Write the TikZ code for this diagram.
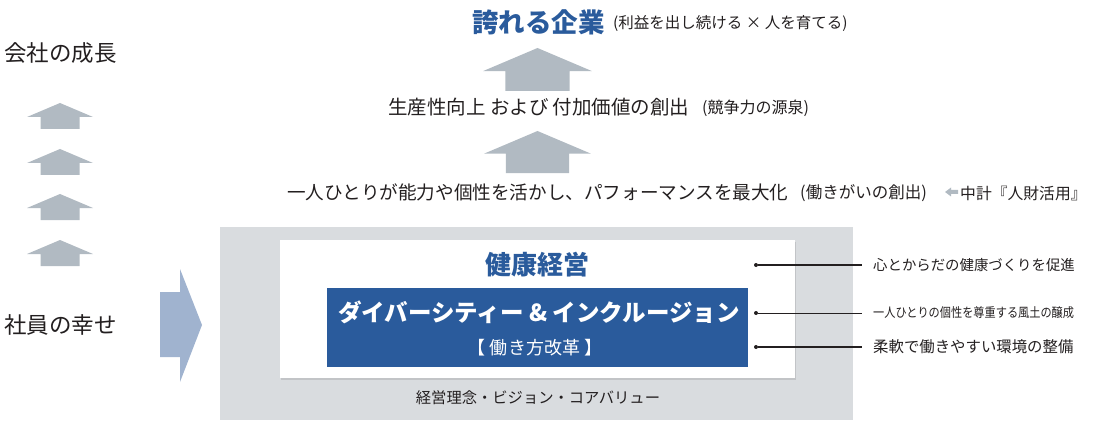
\documentclass[tikz,border=0pt]{standalone}
\usepackage{fontspec}
\setmainfont{Noto Sans CJK JP}
\usetikzlibrary{shadows}
\definecolor{kblue}{HTML}{2A5B9C}
\definecolor{karrow}{HTML}{B1BAC2}
\definecolor{kpanel}{HTML}{D9DCDF}
\definecolor{kside}{HTML}{A0B3CF}
\definecolor{ktext}{HTML}{231F20}
\tikzset{
  txt/.style={text=ktext,inner sep=0pt},
  dotmark/.style={circle,fill=ktext,inner sep=0pt,minimum size=4pt},
  uparrow/.pic={
    \fill[karrow] (-33,14) -- (0,0) -- (33,14) -- (19.5,14) -- (19.5,26)
      -- (-19.5,26) -- (-19.5,14) -- cycle;
  },
}
\newcommand\fs[1]{\fontsize{#1}{#1}\selectfont}
\begin{document}
\begin{tikzpicture}[x=1pt,y=-1pt]
  \useasboundingbox (0,0) rectangle (1093,433);
  \node[txt,anchor=west,font=\fs{26.5}\bfseries,text=kblue] (goal) at (472,22) {誇れる企業};
  \node[txt,anchor=west,font=\fs{15.5}] (goalnote) at (613,23) {(利益を出し続ける × 人を育てる)};
  \pic[scale=1.65] at (537.5,48) {uparrow};
  \node[txt,anchor=west,font=\fs{19.5}] (value) at (388,107) {生産性向上 および 付加価値の創出};
  \node[txt,anchor=west,font=\fs{16}] (valuenote) at (702,108) {(競争力の源泉)};
  \pic[scale=1.62] at (537.5,131) {uparrow};
  \node[txt,anchor=west,font=\fs{18.6}] (perf) at (287,192) {一人ひとりが能力や個性を活かし、パフォーマンスを最大化};
  \node[txt,anchor=west,font=\fs{16.5}] (perfnote) at (800,193) {(働きがいの創出)};
  \fill[karrow] (945,192) -- (951,187.5) -- (951,190) -- (958,190) -- (958,194) -- (951,194) -- (951,196.5) -- cycle;
  \node[txt,anchor=west,font=\fs{15.8}] (plan) at (960,193) {中計『人財活用』};
  \node[txt,anchor=west,font=\fs{22.5}] (growth) at (4,53) {会社の成長};
  \pic at (60,103) {uparrow};
  \pic at (60,149) {uparrow};
  \pic at (60,194) {uparrow};
  \pic at (60,240) {uparrow};
  \node[txt,anchor=west,font=\fs{22.5}] (happy) at (4,325) {社員の幸せ};
  \fill[kside] (160,292) -- (180,292) -- (180,269) -- (202,325) -- (180,382)
    -- (180,357) -- (160,357) -- cycle;
  \fill[kpanel] (220,227) rectangle (853,420);
  \fill[white,drop shadow={opacity=0.25,shadow xshift=1pt,shadow yshift=-1.5pt}] (280,240) rectangle (795,378);
  \fill[kblue] (327,288) rectangle (748,367);
  \node[font=\fs{26}\bfseries,text=kblue,inner sep=0pt] (health) at (537,265) {健康経営};
  \node[font=\fs{23.5}\bfseries,text=white,inner sep=0pt] (diversity) at (539,312) {ダイバーシティー \& インクルージョン};
  \node[font=\fs{18},text=white,inner sep=0pt] (reform) at (535,348) {【 働き方改革 】};
  \node[txt,font=\fs{15.3}] (vision) at (538,398) {経営理念・ビジョン・コアバリュー};
  \node[dotmark] (d1) at (756,265) {};
  \node[dotmark] (d2) at (756,313) {};
  \node[dotmark] (d3) at (756,347) {};
  \node[txt,anchor=west,font=\fs{14.4}] (t1) at (873,265) {心とからだの健康づくりを促進};
  \node[txt,anchor=west,font=\fs{13},xscale=0.86] (t2) at (873,313) {一人ひとりの個性を尊重する風土の醸成};
  \node[txt,anchor=west,font=\fs{15.4}] (t3) at (873,347) {柔軟で働きやすい環境の整備};
  \begin{scope}[draw=ktext]
    \draw[line width=2pt] (d1) -- ([xshift=-11pt]t1.west);
    \draw[line width=1pt] (d2) -- ([xshift=-11pt]t2.west);
    \draw[line width=2pt] (d3) -- ([xshift=-11pt]t3.west);
  \end{scope}
\end{tikzpicture}
\end{document}
